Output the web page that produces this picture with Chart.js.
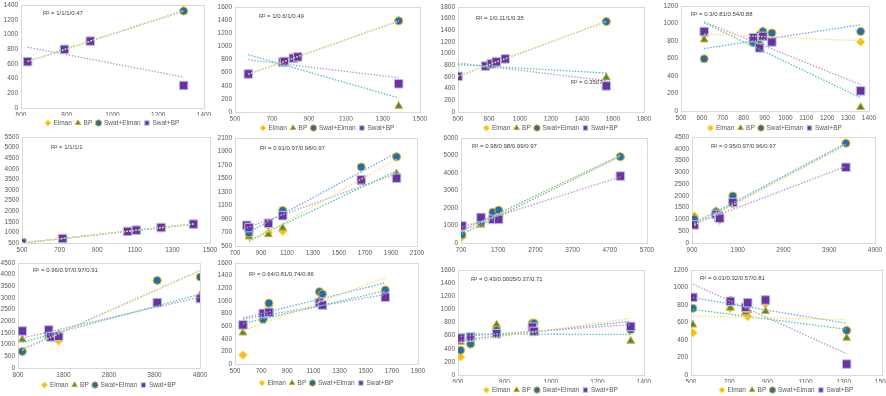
<!DOCTYPE html>
<html>
<head>
<meta charset="utf-8">
<script src="https://cdn.jsdelivr.net/npm/chart.js@4.4.1/dist/chart.umd.min.js"></script>
<style>
  html, body { margin: 0; padding: 0; background: #fff; }
  body { width: 886px; height: 396px; position: relative; overflow: hidden; }
  canvas { position: absolute; }
</style>
</head>
<body>
<script>
// observed vs. simulated values, one x array per panel, four series each
const x1 = [629, 790, 903, 1311];
const elman1 = [630, 797, 909, 1319];
const bp1 = [630, 797, 909, 1319];
const swatElman1 = [630, 797, 909, 1319];
const swatBp1 = [630, 797, 909, 306];

const x2 = [572, 758, 767, 815, 839, 1385];
const elman2 = [579, 760, 770, 820, 840, 1389];
const bp2 = [579, 760, 770, 820, 840, 90];
const swatElman2 = [579, 760, 770, 820, 840, 1389];
const swatBp2 = [579, 760, 770, 820, 840, 430];

const x3 = [600, 778, 815, 847, 905, 1557];
const elman3 = [611, 787, 826, 860, 911, 1551];
const bp3 = [611, 787, 826, 860, 911, 589];
const swatElman3 = [611, 787, 826, 860, 911, 1551];
const swatBp3 = [611, 787, 826, 860, 911, 447];

const x4 = [611, 846, 876, 892, 935, 1360];
const elman4 = [868, 840, 781, 917, 890, 789];
const bp4 = [815, 781, 781, 870, null, 42];
const swatElman4 = [596, 781, 870, 909, 891, 909];
const swatBp4 = [909, 838, 721, 853, 789, 230];

const x5 = [500, 716, 1062, 1108, 1240, 1412];
const elman5 = [500, 710, 1045, 1105, 1230, 1390];
const bp5 = [500, 710, 1045, 1105, 1230, 1390];
const swatElman5 = [500, 710, 1045, 1105, 1230, 1390];
const swatBp5 = [500, 710, 1045, 1105, 1230, 1390];

const x6 = [790, 808, 957, 1067, 1671, 1943];
const elman6 = [null, 661, 695, 720, 1480, 1822];
const bp6 = [null, 637, 671, 768, 1441, 1573];
const swatElman6 = [null, 690, 817, 1027, 1671, 1822];
const swatBp6 = [807, 773, 837, 949, 1480, 1505];

const x7 = [727, 1238, 1560, 1712, 4983];
const elman7 = [337, 1150, 1700, 1800, 4931];
const bp7 = [450, 1031, 1400, 1600, 4931];
const swatElman7 = [469, 1150, 1762, 1875, 4931];
const swatBp7 = [975, 1462, 1350, 1350, 3825];

const x8 = [951, 1427, 1485, 1507, 1792, 4264];
const elman8 = [1146, 1300, 1100, 950, 1649, 4234];
const bp8 = [1090, 1350, 1150, 1000, 1700, 4234];
const swatElman8 = [1020, 1328, 1250, 1100, 1998, 4234];
const swatBp8 = [769, 1216, 1090, 1048, 1719, 3214];

const x9 = [895, 1475, 1519, 1695, 3860, 4807];
const elman9 = [700, 1450, 1350, 1161, 3754, 3895];
const bp9 = [1218, 1400, 1350, 1450, 2750, 3130];
const swatElman9 = [708, 1400, 1360, 1380, 3754, 3895];
const swatBp9 = [1586, 1629, 1331, 1360, 2805, 2975];

const x10 = [561, 716, 760, 1146, 1169, 1650];
const elman10 = [141, 720, 922, 1140, 1100, 1170];
const bp10 = [495, 760, 800, 1016, 950, 1080];
const swatElman10 = [620, 703, 964, 1146, 1110, 1172];
const swatBp10 = [620, 802, 818, 974, 933, 1058];

const x11 = [611, 654, 766, 920, 927, 1343];
const elman11 = [277, 460, 730, 790, 790, 720];
const bp11 = [503, 530, 765, 720, 700, 518];
const swatElman11 = [377, 473, 684, 790, 790, 689];
const swatBp11 = [563, 579, 629, 730, 664, 740];

const x12 = [510, 706, 786, 797, 890, 1315];
const elman12 = [483, 762, 700, 668, 811, 517];
const bp12 = [574, 766, 717, 740, 728, 423];
const swatElman12 = [762, 850, 780, 830, 860, 509];
const swatBp12 = [887, 842, 774, 826, 857, 125];

const seriesNames = ['Elman', 'BP', 'Swat+Elman', 'Swat+BP'];

const r2Labels = [
  'R² = 1/1/1/0.47', 'R² = 1/0.6/1/0.49', 'R² = 1/0.11/1/0.35', 'R² = 0.3/0.81/0.54/0.88',
  'R² = 1/1/1/1', 'R² = 0.91/0.97/0.98/0.97', 'R² = 0.98/0.98/0.99/0.97', 'R² = 0.95/0.97/0.96/0.97',
  'R² = 0.96/0.97/0.97/0.91', 'R² = 0.64/0.81/0.74/0.86', 'R² = 0.43/0.0005/0.37/0.71', 'R² = 0.01/0.32/0.57/0.81'
];

// axis ranges [min, max, step]; box = plot area [left, top, right, bottom, legend centre y]
const panels = [
  { x: x1, ys: [elman1, bp1, swatElman1, swatBp1], xr: [600, 1400, 200], yr: [0, 1400, 200], box: [21, 4, 204, 108, 123], r2: [22, 8] },
  { x: x2, ys: [elman2, bp2, swatElman2, swatBp2], xr: [500, 1500, 200], yr: [0, 1600, 200], box: [235, 6, 420, 112, 128], r2: [24, 9] },
  { x: x3, ys: [elman3, bp3, swatElman3, swatBp3], xr: [600, 1800, 200], yr: [0, 1800, 200], box: [458, 6, 644, 112, 128], r2: [18, 11],
    extra: ['R² = 0.3507', 113, 75] },
  { x: x4, ys: [elman4, bp4, swatElman4, swatBp4], xr: [500, 1400, 100], yr: [0, 1200, 200], box: [681, 5, 869, 111, 128], r2: [10, 8] },
  { x: x5, ys: [elman5, bp5, swatElman5, swatBp5], xr: [500, 1500, 200], yr: [500, 5500, 500], box: [22, 136, 210, 243, null], r2: [29, 10] },
  { x: x6, ys: [elman6, bp6, swatElman6, swatBp6], xr: [700, 2100, 200], yr: [500, 2100, 200], box: [235, 137, 417, 246, null], r2: [25, 10] },
  { x: x7, ys: [elman7, bp7, swatElman7, swatBp7], xr: [700, 5700, 1000], yr: [0, 6000, 1000], box: [461, 137, 647, 243, null], r2: [11, 8] },
  { x: x8, ys: [elman8, bp8, swatElman8, swatBp8], xr: [900, 4900, 1000], yr: [0, 4500, 500], box: [692, 136, 875, 243, null], r2: [19, 9] },
  { x: x9, ys: [elman9, bp9, swatElman9, swatBp9], xr: [800, 4800, 1000], yr: [0, 4500, 500], box: [18, 262, 200, 368, 385], r2: [15, 7] },
  { x: x10, ys: [elman10, bp10, swatElman10, swatBp10], xr: [500, 1900, 200], yr: [0, 1600, 200], box: [235, 262, 418, 364, 383], r2: [14, 11] },
  { x: x11, ys: [elman11, bp11, swatElman11, swatBp11], xr: [600, 1400, 200], yr: [0, 1600, 200], box: [458, 269, 644, 375, 390], r2: [13, 9] },
  { x: x12, ys: [elman12, bp12, swatElman12, swatBp12], xr: [500, 1500, 200], yr: [0, 1200, 200], box: [691, 269, 882, 375, 390], r2: [9, 8] }
];

const looks = [
  { style: 'rectRot', fill: '#F4C20D', edge: '#FFE58A', r: 4.5, trend: '#FFDC73', order: 4 },
  { style: 'triangle', fill: '#2F9B3A', edge: '#F29B38', r: 4.5, trend: '#52C7AC', order: 3 },
  { style: 'circle', fill: '#1F6DB5', edge: '#E9B80C', r: 4, trend: '#6FA8DC', order: 2 },
  { style: 'rect', fill: '#7030A0', edge: '#A9C4EB', r: 6, trend: '#B89AD0', order: 1 }
];

const FONT = 'Liberation Sans, Arial, sans-serif';
const fontPx = 6.5;
const r2Px = 6;
const yAxisW = 30, padTop = 6, padRight = 12, legPad = 4;
Chart.defaults.font.family = FONT;

// least squares trendline across the series' x range (like Excel's linear trendline)
function trendPoints(xs, ys) {
  const pts = xs.map((x, i) => [x, ys[i]]).filter(p => p[1] != null);
  const n = pts.length;
  const mx = pts.reduce((s, p) => s + p[0], 0) / n;
  const my = pts.reduce((s, p) => s + p[1], 0) / n;
  let sxy = 0, sxx = 0;
  pts.forEach(([x, y]) => { sxy += (x - mx) * (y - my); sxx += (x - mx) * (x - mx); });
  const b = sxx ? sxy / sxx : 0;
  const lo = Math.min(...pts.map(p => p[0]));
  const hi = Math.max(...pts.map(p => p[0]));
  return [{ x: lo, y: my + b * (lo - mx) }, { x: hi, y: my + b * (hi - mx) }];
}

const framePlugin = {
  id: 'frame',
  beforeDatasetsDraw(chart) {
    const { ctx, chartArea: a } = chart;
    ctx.save();
    ctx.strokeStyle = '#D9D9D9';
    ctx.lineWidth = 1;
    ctx.strokeRect(Math.round(a.left) + 0.5, Math.round(a.top) + 0.5,
      Math.round(a.right - a.left), Math.round(a.bottom - a.top));
    ctx.restore();
  }
};

const r2Plugin = {
  id: 'r2text',
  afterDraw(chart, args, opts) {
    const { ctx, chartArea: a } = chart;
    ctx.save();
    ctx.font = r2Px + 'px ' + FONT;
    ctx.fillStyle = '#404040';
    ctx.textBaseline = 'middle';
    opts.items.forEach(([txt, dx, dy]) => ctx.fillText(txt, a.left + dx, a.top + dy));
    ctx.restore();
  }
};

function tickOpts() {
  return { color: '#595959', font: { size: fontPx }, padding: 3, autoSkip: false, maxRotation: 0, callback: v => v };
}

panels.forEach((p, idx) => {
  const [L, T, R, B, legY] = p.box;
  const hasLegend = legY != null;
  const xH = hasLegend ? legY - B - legPad - fontPx / 2 : 14;
  const legH = hasLegend ? fontPx + legPad + 10 : 0;
  const rawH = padTop + (B - T) + xH + legH;
  const h = Math.ceil(rawH);
  const w = yAxisW + (R - L) + padRight;

  const canvas = document.createElement('canvas');
  canvas.width = w;
  canvas.height = h;
  canvas.style.left = (L - yAxisW) + 'px';
  canvas.style.top = (T - padTop) + 'px';
  document.body.appendChild(canvas);

  const datasets = [];
  p.ys.forEach((ys, s) => {
    const lk = looks[s];
    datasets.push({
      label: seriesNames[s],
      data: p.x.map((x, i) => ({ x, y: ys[i] })).filter(d => d.y != null),
      pointStyle: lk.style,
      pointRadius: lk.r,
      pointHoverRadius: lk.r,
      backgroundColor: lk.fill,
      borderColor: lk.edge,
      borderWidth: 1,
      order: lk.order
    });
  });
  p.ys.forEach((ys, s) => {
    datasets.push({
      type: 'line',
      label: 'trend ' + seriesNames[s],
      data: trendPoints(p.x, ys),
      borderColor: looks[s].trend,
      borderWidth: 1.3,
      borderDash: [1.5, 1.5],
      pointRadius: 0,
      fill: false,
      order: 0
    });
  });

  const r2Items = [[r2Labels[idx], p.r2[0], p.r2[1]]];
  if (p.extra) r2Items.push(p.extra);

  new Chart(canvas, {
    type: 'scatter',
    data: { datasets },
    options: {
      responsive: false,
      animation: false,
      events: [],
      layout: { padding: { top: padTop, right: padRight, left: 0, bottom: h - rawH } },
      plugins: {
        legend: {
          display: hasLegend,
          position: 'bottom',
          fullSize: false,
          labels: {
            usePointStyle: true,
            boxWidth: 4.5,
            boxHeight: 4.5,
            padding: legPad,
            color: '#595959',
            font: { size: fontPx },
            filter: item => item.datasetIndex < 4,
            sort: (a, b) => a.datasetIndex - b.datasetIndex
          }
        },
        tooltip: { enabled: false },
        r2text: { items: r2Items }
      },
      scales: {
        x: {
          type: 'linear',
          min: p.xr[0], max: p.xr[1],
          ticks: Object.assign(tickOpts(), { stepSize: p.xr[2] }),
          grid: { display: false, drawTicks: false },
          border: { display: false },
          afterFit: s => { s.height = xH; }
        },
        y: {
          type: 'linear',
          min: p.yr[0], max: p.yr[1],
          ticks: Object.assign(tickOpts(), { stepSize: p.yr[2] }),
          grid: { display: false, drawTicks: false },
          border: { display: false },
          afterFit: s => { s.width = yAxisW; }
        }
      }
    },
    plugins: [framePlugin, r2Plugin]
  });
});
</script>
</body>
</html>
